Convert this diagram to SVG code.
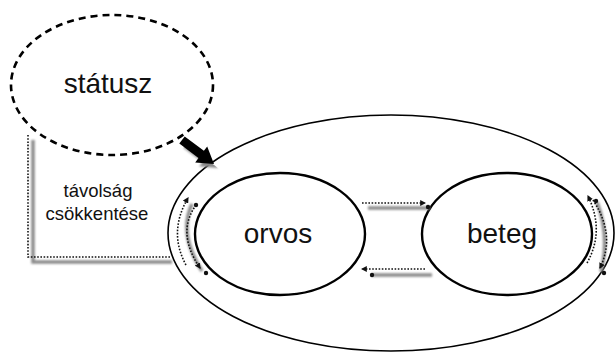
<svg xmlns="http://www.w3.org/2000/svg" width="615" height="353" viewBox="0 0 615 353">
<style>
.lbl{font-family:"Liberation Sans",Arial,sans-serif;fill:#111;text-anchor:middle}
.big{font-size:28px}
.small{font-size:18.5px}
.dot{fill:none;stroke:#111;stroke-width:1.6;stroke-dasharray:1.6 1.6}
.shadow{fill:none;stroke:#8a8a8a;stroke-width:3.5;filter:url(#blur)}
.node{fill:#fff;stroke:#000;stroke-width:2.4}
</style>
<defs>
<filter id="blur" filterUnits="userSpaceOnUse" x="0" y="0" width="615" height="353"><feGaussianBlur stdDeviation="1.2"/></filter>
<marker id="ah" viewBox="0 0 10 10" refX="8" refY="5" markerWidth="6" markerHeight="6" orient="auto" markerUnits="userSpaceOnUse"><path d="M0,0 L10,5 L0,10 Z" fill="#111"/></marker>
</defs>
<rect width="615" height="353" fill="#fff"/>
<g id="outer">
<ellipse cx="391" cy="233" rx="223" ry="118" fill="#fff" stroke="#000" stroke-width="1.6"/>
</g>
<g id="statusz">
<ellipse cx="112" cy="85" rx="101" ry="70" fill="#fff" stroke="#000" stroke-width="2.6" stroke-dasharray="7 5"/>
<text class="lbl big" x="108" y="93">státusz</text>
</g>
<g id="orvos">
<ellipse class="node" cx="280" cy="234" rx="85" ry="61"/>
<text class="lbl big" x="278" y="243">orvos</text>
</g>
<g id="beteg">
<ellipse class="node" cx="507" cy="234" rx="85" ry="61"/>
<text class="lbl big" x="502" y="243">beteg</text>
</g>
<g id="tavolsag">
<text class="lbl small" x="98" y="197">távolság</text>
<text class="lbl small" x="97" y="220">csökkentése</text>
</g>
<g id="connectors">
<!-- bracket -->
<path class="shadow" d="M33,140 V262 H172"/>
<path class="dot" d="M28,135 V257 H170"/>
<!-- big arrow -->
<path transform="translate(186,144) rotate(36.87)" d="M0,-4.5 L24,-4.5 L24,-10 L40,0 L24,10 L24,4.5 L0,4.5 Z" fill="#888" filter="url(#blur)"/>
<path transform="translate(182,140) rotate(36.87)" d="M0,-4.5 L24,-4.5 L24,-10 L40,0 L24,10 L24,4.5 L0,4.5 Z" fill="#000"/>
<!-- horizontal arrows -->
<path class="shadow" d="M368,208 H430"/>
<circle cx="428" cy="207" r="2.2" fill="#111"/>
<path class="dot" d="M362,203 H425" marker-end="url(#ah)"/>
<path class="shadow" d="M372,275 H432"/>
<circle cx="372" cy="275" r="2.2" fill="#111"/>
<path class="dot" d="M425,269 H362" marker-end="url(#ah)"/>
<!-- left arcs -->
<path class="shadow" d="M192,204 Q178,234 202,271"/>
<path class="dot" d="M186,265 Q168,232 188,198" marker-end="url(#ah)"/>
<path class="dot" d="M196,205 Q176,233 200,268" marker-end="url(#ah)"/>
<circle cx="196" cy="205" r="2.2" fill="#111"/>
<circle cx="206" cy="273" r="2.2" fill="#111"/>
<!-- right arcs -->
<path class="shadow" d="M597,202 Q610,236 601,272"/>
<path class="dot" d="M593,200 Q616,235 600,268" marker-end="url(#ah)"/>
<path class="dot" d="M587,263 Q605,231 588,196" marker-end="url(#ah)"/>
<circle cx="596" cy="201" r="2.2" fill="#111"/>
<circle cx="604" cy="273" r="2.2" fill="#111"/>
</g>
</svg>
